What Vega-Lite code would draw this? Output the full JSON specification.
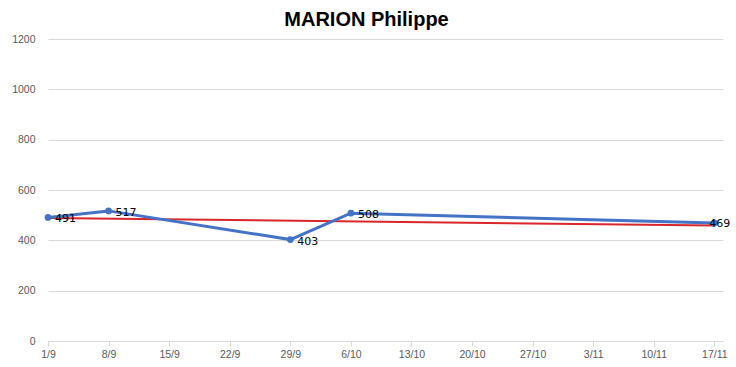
{
  "$schema": "https://vega.github.io/schema/vega-lite/v6.json",
  "width": 675,
  "height": 302,
  "autosize": {"type": "none"},
  "padding": {"left": 48, "top": 39, "right": 13, "bottom": 26},
  "background": "white",
  "title": {
    "text": "MARION Philippe",
    "font": "Liberation Sans",
    "fontSize": 20,
    "fontWeight": "bold",
    "color": "#000000",
    "anchor": "middle",
    "frame": "group",
    "dx": -19,
    "offset": 4
  },
  "config": {
    "view": {"stroke": null},
    "axis": {
      "labelFont": "Liberation Sans",
      "labelFontSize": 10.5,
      "labelColor": "#595959",
      "gridColor": "#d9d9d9",
      "gridWidth": 1,
      "domainColor": "#d9d9d9",
      "tickColor": "#d9d9d9",
      "title": null
    }
  },
  "datasets": {
    "scores": [
      {"date": "2019-09-01", "value": 491},
      {"date": "2019-09-08", "value": 517},
      {"date": "2019-09-29", "value": 403},
      {"date": "2019-10-06", "value": 508},
      {"date": "2019-11-17", "value": 469}
    ],
    "trend": [
      {"date": "2019-09-01", "value": 489},
      {"date": "2019-11-17", "value": 459}
    ]
  },
  "layer": [
    {
      "data": {"name": "trend"},
      "mark": {"type": "line", "color": "#D9262B", "strokeWidth": 2},
      "encoding": {
        "x": {
          "field": "date",
          "type": "temporal",
          "scale": {"domain": [{"year": 2019, "month": 9, "date": 1}, {"year": 2019, "month": 11, "date": 18}]},
          "axis": {
            "values": [
              {"year": 2019, "month": 9, "date": 1},
              {"year": 2019, "month": 9, "date": 8},
              {"year": 2019, "month": 9, "date": 15},
              {"year": 2019, "month": 9, "date": 22},
              {"year": 2019, "month": 9, "date": 29},
              {"year": 2019, "month": 10, "date": 6},
              {"year": 2019, "month": 10, "date": 13},
              {"year": 2019, "month": 10, "date": 20},
              {"year": 2019, "month": 10, "date": 27},
              {"year": 2019, "month": 11, "date": 3},
              {"year": 2019, "month": 11, "date": 10},
              {"year": 2019, "month": 11, "date": 17}
            ],
            "format": "%-d/%-m",
            "grid": false,
            "tickSize": 5,
            "labelPadding": 3,
            "labelFlush": false,
            "labelOverlap": false
          }
        },
        "y": {
          "field": "value",
          "type": "quantitative",
          "scale": {"domain": [0, 1200]},
          "axis": {
            "values": [0, 200, 400, 600, 800, 1000, 1200],
            "format": "d",
            "domain": false,
            "ticks": false,
            "labelPadding": 13
          }
        }
      }
    },
    {
      "data": {"name": "scores"},
      "mark": {"type": "line", "color": "#4472C4", "strokeWidth": 3, "point": {"filled": true, "size": 45, "color": "#4472C4"}},
      "encoding": {
        "x": {"field": "date", "type": "temporal"},
        "y": {"field": "value", "type": "quantitative"}
      }
    },
    {
      "data": {"name": "scores"},
      "transform": [{"filter": "datum.value != 469"}],
      "mark": {"type": "text", "align": "left", "baseline": "middle", "dx": 7, "dy": 2, "font": "DejaVu Sans", "fontSize": 11, "color": "#000000"},
      "encoding": {
        "x": {"field": "date", "type": "temporal"},
        "y": {"field": "value", "type": "quantitative"},
        "text": {"field": "value", "type": "quantitative"}
      }
    },
    {
      "data": {"name": "scores"},
      "transform": [{"filter": "datum.value == 469"}],
      "mark": {"type": "text", "align": "left", "baseline": "middle", "dx": -5, "dy": 1, "font": "DejaVu Sans", "fontSize": 11, "color": "#000000"},
      "encoding": {
        "x": {"field": "date", "type": "temporal"},
        "y": {"field": "value", "type": "quantitative"},
        "text": {"field": "value", "type": "quantitative"}
      }
    }
  ]
}
